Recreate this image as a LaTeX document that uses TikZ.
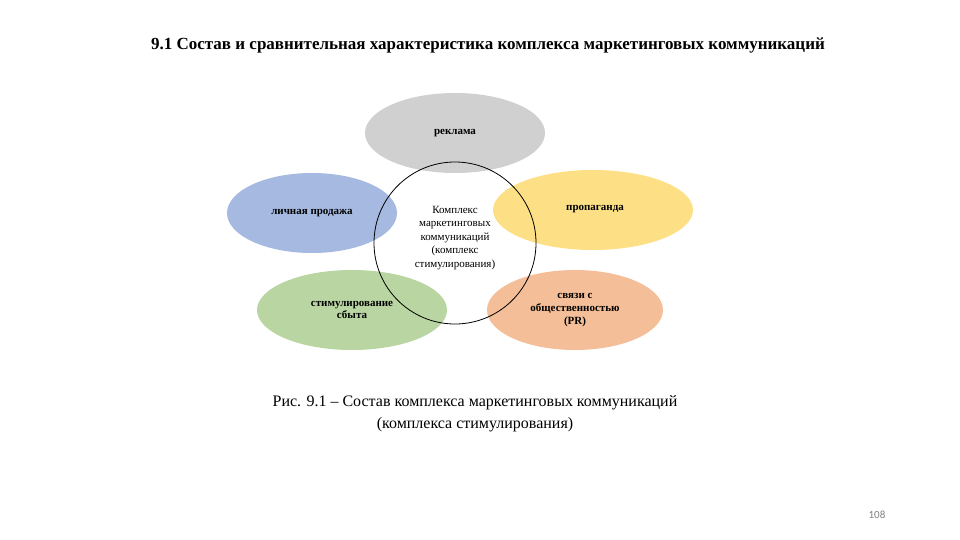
\documentclass[tikz,border=0pt]{standalone}
\usepackage{fontspec}
\setmainfont{Liberation Serif}
\newfontfamily\pgnum{Carlito}
\usetikzlibrary{shapes.geometric}
\definecolor{cgray}{HTML}{D0D0D0}
\definecolor{cblue}{HTML}{A6B9E0}
\definecolor{cyel}{HTML}{FDE085}
\definecolor{cgreen}{HTML}{B9D6A2}
\definecolor{corange}{HTML}{F4BE98}
\begin{document}
\begin{tikzpicture}[x=1pt,y=-1pt,
  ell/.style={ellipse,draw=none,minimum height=80pt,align=center,font=\fontsize{11}{12}\selectfont\bfseries,inner sep=0pt},
  lbl/.style={align=center,font=\fontsize{11}{12}\selectfont\bfseries}]
\useasboundingbox (0,0) rectangle (960,540);
\node[font=\fontsize{17}{20}\selectfont\bfseries] (title) at (488,45) {9.1 Состав и сравнительная характеристика комплекса маркетинговых коммуникаций};
\node[ell,fill=cgray,minimum width=180pt] (ad) at (455,133) {};
\node[lbl] at (455,133) {реклама};
\node[ell,fill=cblue,minimum width=170pt] (ps) at (312,213) {};
\node[ell,fill=cyel,minimum width=200pt] (pr) at (593,210) {};
\node[ell,fill=cgreen,minimum width=190pt] (ss) at (352,310) {};
\node[ell,fill=corange,minimum width=176pt] (pub) at (575,310) {};
\node[circle,draw,thick,minimum size=162pt] (c) at (455,243) {};
\node[lbl] at (312,213) {личная продажа};
\node[lbl] at (595,209) {пропаганда};
\node[lbl] at (352,310) {стимулирование\\сбыта};
\node[lbl,font=\fontsize{11}{13}\selectfont\bfseries] at (575,310) {связи с\\общественностью\\(PR)};
\node[align=center,font=\fontsize{11}{13.5}\selectfont] (ct) at (455,238) {Комплекс\\маркетинговых\\коммуникаций\\(комплекс\\стимулирования)};
\node[align=center,font=\fontsize{16}{22}\selectfont] (cap) at (475,414) {Рис. 9.1 -- Состав комплекса маркетинговых коммуникаций\\(комплекса стимулирования)};
\node[font=\pgnum\fontsize{11}{12}\selectfont,text=gray] (pg) at (877,515) {108};
\end{tikzpicture}
\end{document}
